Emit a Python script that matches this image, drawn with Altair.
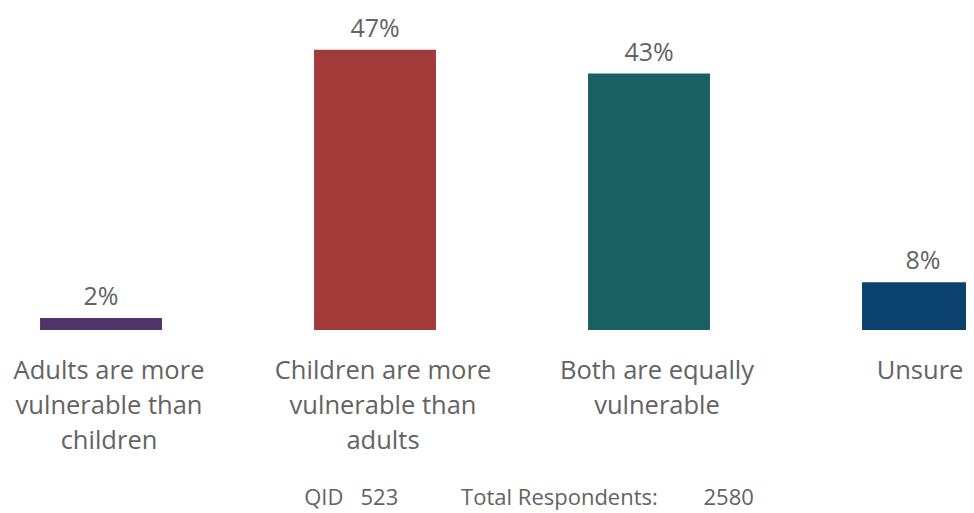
import altair as alt
import pandas as pd

categories = [
    "Adults are more|vulnerable than|children",
    "Children are more|vulnerable than|adults",
    "Both are equally|vulnerable",
    "Unsure",
]
values = [2, 47, 43, 8]
labels = ["2%", "47%", "43%", "8%"]
colors = ["#51336b", "#a33a3a", "#1a6063", "#0b426d"]

df = pd.DataFrame({"cat": categories, "val": values, "lab": labels})

FONT = "Open Sans"
GRAY = "#636363"
NB = "\u00a0"
footer = "QID" + NB * 3 + "523" + NB * 11 + "Total Respondents:" + NB * 8 + "2580"

x = alt.X(
    "cat:N",
    sort=categories,
    scale=alt.Scale(range=[-44, 1052], paddingInner=0.555, paddingOuter=0.2775),
    axis=alt.Axis(
        title=None,
        domain=False,
        ticks=False,
        grid=False,
        labelAngle=0,
        labelExpr="split(datum.label, '|')",
        labelFont=FONT,
        labelFontSize=25.5,
        labelColor=GRAY,
        labelLineHeight=35,
        labelPadding=28,
        labelOffset={"condition": {"test": "datum.value == 'Unsure'", "value": -3}, "value": 8},
        labelOverlap=False,
        labelLimit=0,
        labelAlign="center",
    ),
)
y = alt.Y("val:Q", scale=alt.Scale(domain=[0, 54], nice=False), axis=None)

bars = alt.Chart(df).mark_bar().encode(
    x=x,
    y=y,
    color=alt.Color("cat:N", scale=alt.Scale(domain=categories, range=colors), legend=None),
)
text = alt.Chart(df).mark_text(
    font=FONT, fontSize=25, color=GRAY, baseline="alphabetic", dy=-13
).encode(x=alt.X("cat:N", sort=categories), y=y, text="lab:N")

chart = (
    alt.layer(bars, text)
    .properties(
        width=958,
        height=322,
        padding={"left": 0, "top": 0, "right": 0, "bottom": 183},
        autosize=alt.AutoSizeParams(type="none"),
        title=alt.TitleParams(
            footer,
            orient="bottom",
            anchor="middle",
            font=FONT,
            fontSize=22,
            fontWeight="normal",
            color=GRAY,
            dx=42,
            offset=34,
        ),
    )
    .configure_view(stroke=None)
)

chart.save("out.html", embed_options={"renderer": "svg", "actions": False})
